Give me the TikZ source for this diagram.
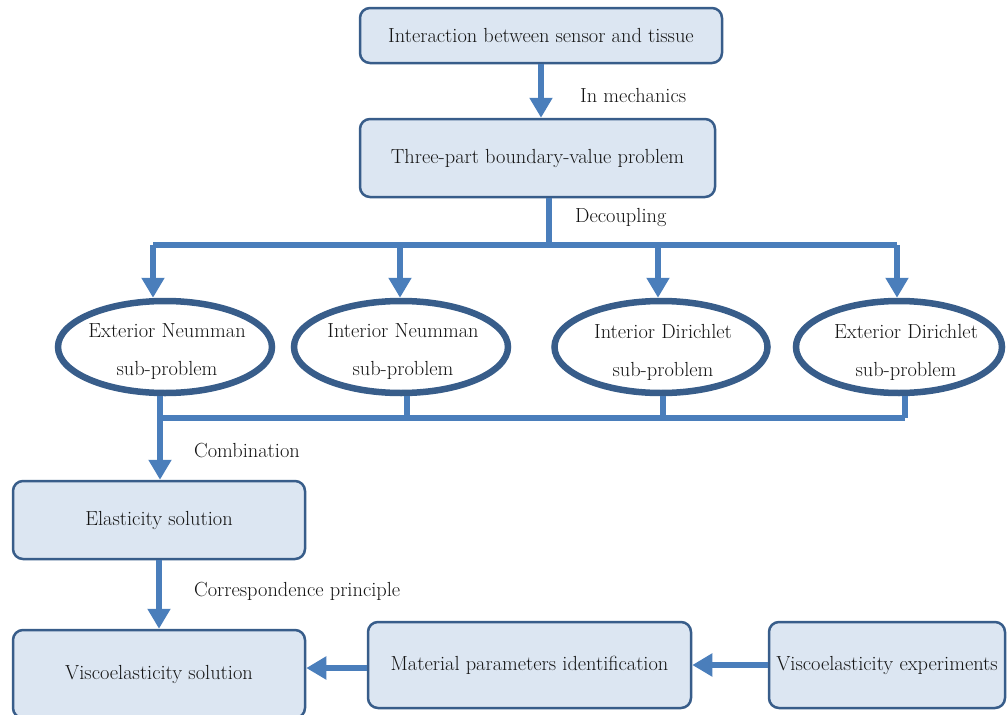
\documentclass[tikz,border=0pt]{standalone}
\usetikzlibrary{shapes.geometric,arrows.meta,calc}
\definecolor{boxfill}{HTML}{DCE6F2}
\definecolor{boxline}{HTML}{385D8A}
\definecolor{flow}{HTML}{4A7EBB}
\begin{document}
\begin{tikzpicture}[x=1pt,y=-1pt,
  txt/.style={font=\fontsize{20.4}{24}\selectfont, text=black!92},
  stepbox/.style={txt, draw=boxline, fill=boxfill, line width=2.5pt, rounded corners=10pt, align=center},
  subprob/.style={ellipse, draw=boxline, fill=white, line width=6.5pt, inner sep=0pt},
  subtext/.style={txt, font=\fontsize{20.4}{38}\selectfont, align=center, inner sep=0pt, yshift=-5pt},
  flowline/.style={draw=flow, line width=6pt},
  flowarrow/.style={flowline, -{Triangle[width=22pt,length=20pt]}},
  lbl/.style={txt, anchor=west, inner sep=0pt}
]
\useasboundingbox (0,0) rectangle (1007,715);

% process boxes
\node[stepbox, minimum width=362pt, minimum height=55pt] (b1) at (541,35.5) {Interaction between sensor and tissue};
\node[stepbox, minimum width=355pt, minimum height=78pt] (b2) at (537.5,158) {Three-part boundary-value problem};
\node[stepbox, minimum width=292pt, minimum height=78pt] (b3) at (159,520) {Elasticity solution};
\node[stepbox, minimum width=292pt, minimum height=88pt] (b4) at (159,674) {Viscoelasticity solution};
\node[stepbox, minimum width=323pt, minimum height=86pt] (b5) at (529.5,665) {Material parameters identification};
\node[stepbox, minimum width=236pt, minimum height=86pt] (b6) at (887,665) {Viscoelasticity experiments};

% sub-problems: outline plus two-line caption
\node[subprob, minimum width=214pt, minimum height=92pt] (e1) at (165,347) {};
\node[subprob, minimum width=214pt, minimum height=92pt] (e2) at (401,347) {};
\node[subprob, minimum width=213pt, minimum height=92pt] (e3) at (661,347) {};
\node[subprob, minimum width=206pt, minimum height=92pt] (e4) at (899,347) {};
\node[subtext] (t1) at ([xshift=2pt]e1) {Exterior Neumman\\sub-problem};
\node[subtext] (t2) at ([xshift=2pt]e2) {Interior Neumman\\sub-problem};
\node[subtext] (t3) at ([xshift=2pt]e3) {Interior Dirichlet\\sub-problem};
\node[subtext] (t4) at ([xshift=7pt]e4) {Exterior Dirichlet\\sub-problem};

% labels
\node[lbl] (l1) at (580,96) {In mechanics};
\node[lbl] (l2) at (575,217) {Decoupling};
\node[lbl] (l3) at (194,451) {Combination};
\node[lbl] (l4) at (194,591) {Correspondence principle};

% distribution points
\coordinate (split) at (549,245);
\coordinate (join) at (160,418);

% flow
\draw[flowarrow] (b1.south) -- (b1.south |- b2.north);
\draw[flowline] (b2.south -| split) -- (split);
\draw[flowline] (153,245) -- (897,245);
\draw[flowarrow] (153,245) -- ([xshift=-12pt]e1.north);
\draw[flowarrow] (400,245) -- ([xshift=-1pt]e2.north);
\draw[flowarrow] (658,245) -- ([xshift=-3pt]e3.north);
\draw[flowarrow] (897,245) -- ([xshift=-2pt]e4.north);

\draw[flowline] ([xshift=-5pt]e1.south) -- (join);
\draw[flowline] ([xshift=6pt]e2.south) -- (407,418);
\draw[flowline] ([xshift=2pt]e3.south) -- (663,418);
\draw[flowline] ([xshift=6pt]e4.south) -- (905,418);
\draw[flowline] (join) -- (905,418);
\draw[flowarrow] (join) -- (b3.north -| join);

\draw[flowarrow] (b3.south) -- (b4.north);
\draw[flowarrow] (b5.west |- 0,668) -- (b4.east |- 0,668);
\draw[flowarrow] (b6.west |- 0,665) -- (b5.east |- 0,665);
\end{tikzpicture}
\end{document}
